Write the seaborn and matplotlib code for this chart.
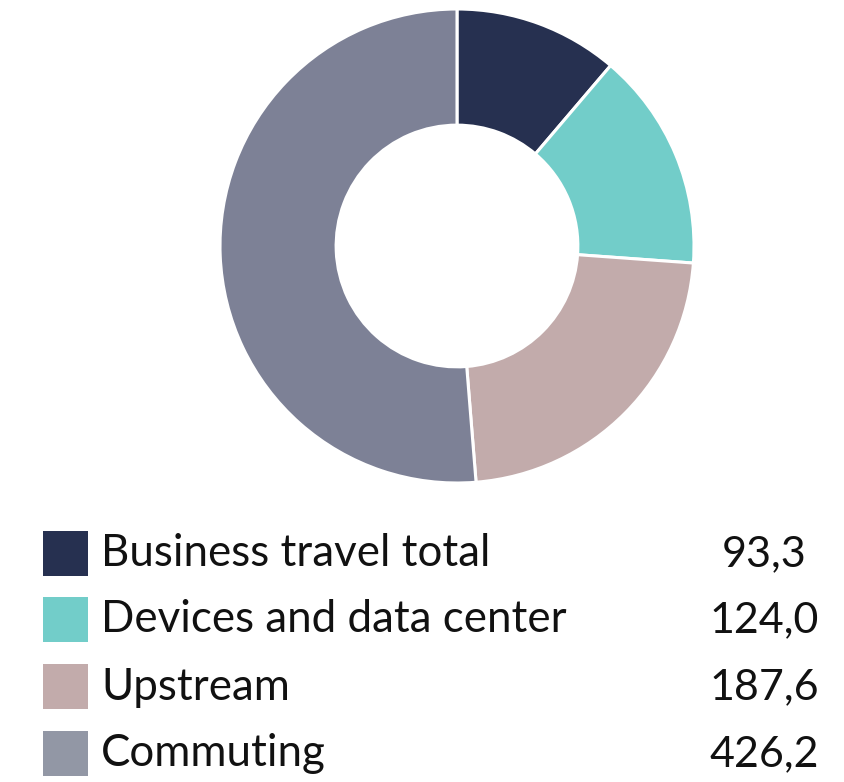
import matplotlib
matplotlib.use("Agg")
import matplotlib.pyplot as plt
import seaborn as sns

# data
categories = ["Business travel total", "Devices and data center", "Upstream", "Commuting"]
values = [93.3, 124.0, 187.6, 426.2]
value_labels = ["93,3", "124,0", "187,6", "426,2"]
slice_colors = ["#263050", "#72CDC9", "#C2ABAB", "#7D8196"]
legend_colors = ["#263050", "#72CDC9", "#C2ABAB", "#9297A5"]

sns.set_theme(style="white")
plt.rcParams["font.family"] = ["Lato", "DejaVu Sans"]

W, H = 845, 782
fig = plt.figure(figsize=(W / 100, H / 100), dpi=100)
fig.patch.set_facecolor("white")

# donut, centre (457, 246) px, outer radius 237 px
cx, cy, r = 457, 246, 237
ax = fig.add_axes([(cx - r) / W, (H - cy - r) / H, 2 * r / W, 2 * r / H])
ax.pie(values, colors=slice_colors, startangle=90, counterclock=False,
       radius=1, wedgeprops=dict(width=0.49, edgecolor="white", linewidth=2.2))
ax.set_xlim(-1, 1)
ax.set_ylim(-1, 1)
ax.axis("off")

# legend drawn in pixel space
lax = fig.add_axes([0, 0, 1, 1], facecolor="none")
lax.set_xlim(0, W)
lax.set_ylim(H, 0)
lax.axis("off")
row_top = [531, 597, 664, 731]
for top, lab, val, col in zip(row_top, categories, value_labels, legend_colors):
    lax.add_patch(plt.Rectangle((43, top), 45, 45, color=col, lw=0))
    lax.text(101, top + 23, lab, fontsize=31.6, va="center", ha="left", color="#111111")
    lax.text(764, top + 23, val, fontsize=31, va="center", ha="center", color="#111111")

fig.savefig("out.png", dpi=100)
